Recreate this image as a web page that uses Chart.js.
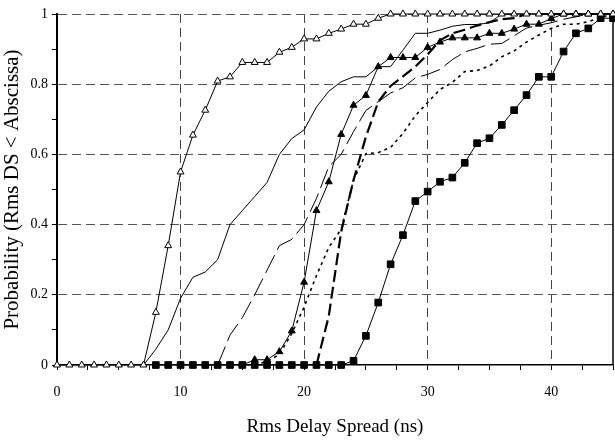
<!DOCTYPE html>
<html>
<head>
<meta charset="utf-8">
<title>Rms delay spread CDF</title>
<script src="https://cdn.jsdelivr.net/npm/chart.js@4.4.1/dist/chart.umd.min.js"></script>
<style>
  html, body { margin: 0; padding: 0; background: #fff; }
  canvas { display: block; }
</style>
</head>
<body>
<canvas id="cdfChart" width="615" height="441"></canvas>
<script>
// Rms delay spread (ns), one sample per nanosecond
const delayNs = [0, 1, 2, 3, 4, 5, 6, 7, 8, 9, 10, 11, 12, 13, 14, 15, 16, 17, 18, 19, 20, 21, 22,
  23, 24, 25, 26, 27, 28, 29, 30, 31, 32, 33, 34, 35, 36, 37, 38, 39, 40, 41, 42, 43, 44, 45];

// Cumulative probability for each curve, indexed like delayNs (null = curve not drawn there)
const openTriangles = [0, 0, 0, 0, 0, 0, 0, 0, 0.15, 0.34, 0.55, 0.655, 0.726, 0.809, 0.821, 0.862,
  0.862, 0.862, 0.891, 0.905, 0.929, 0.929, 0.945, 0.957, 0.971, 0.971, 0.988, 1, 1, 1, 1, 1, 1, 1,
  1, 1, 1, 1, 1, 1, 1, 1, 1, 1, 1, 1];
const solidThin = [null, null, null, null, null, null, null, 0, 0.045, 0.1, 0.19, 0.25, 0.265, 0.3,
  0.4, 0.44, 0.48, 0.52, 0.6, 0.645, 0.67, 0.735, 0.78, 0.807, 0.821, 0.821, 0.85, 0.85, 0.897,
  0.945, 0.945, 0.954, 0.965, 0.97, 0.97, 0.975, 1, 1, 1, 1, 1, 1, 1, 1, 1, 1];
const longDash = [null, null, null, null, null, null, null, null, null, null, null, null, null, 0,
  0.085, 0.135, 0.2, 0.27, 0.34, 0.358, 0.4, 0.475, 0.565, 0.6, 0.665, 0.725, 0.75, 0.775, 0.79,
  0.818, 0.828, 0.842, 0.87, 0.892, 0.902, 0.914, 0.916, 0.938, 0.96, 0.968, 0.975, 0.985, 0.992,
  1, 1, 1];
const boldDash = [null, null, null, null, null, null, null, null, null, null, null, null, null, null,
  null, null, null, null, null, null, null, 0, 0.14, 0.38, 0.527, 0.65, 0.75, 0.795, 0.822, 0.85,
  0.885, 0.925, 0.945, 0.955, 0.967, 0.977, 0.985, 0.988, 1, 1, 1, 1, 1, 1, 1, 1];
const dotted = [null, null, null, null, null, null, null, null, null, null, null, null, null, null,
  null, null, 0, 0.01, 0.03, 0.09, 0.165, 0.255, 0.335, 0.387, 0.527, 0.602, 0.605, 0.62, 0.66,
  0.71, 0.748, 0.785, 0.805, 0.836, 0.839, 0.852, 0.878, 0.895, 0.92, 0.94, 0.959, 0.971, 0.971,
  0.978, 0.99, 1];
const filledTriangles = [null, null, null, null, null, null, null, null, null, null, null, null, null,
  null, null, 0, 0.015, 0.015, 0.038, 0.097, 0.236, 0.44, 0.522, 0.657, 0.74, 0.768, 0.85, 0.876,
  0.876, 0.876, 0.905, 0.92, 0.932, 0.932, 0.932, 0.945, 0.945, 0.957, 0.971, 0.971, 0.987, 1, 1,
  1, 1, 1];
const filledSquares = [null, null, null, null, null, null, null, null, 0, 0, 0, 0, 0, 0, 0, 0, 0, 0,
  0, 0, 0, 0, 0, 0, 0.012, 0.083, 0.178, 0.287, 0.37, 0.467, 0.494, 0.522, 0.534, 0.576, 0.632,
  0.646, 0.684, 0.726, 0.769, 0.821, 0.821, 0.893, 0.945, 0.959, 0.988, 0.988];

// Labelled ticks; the other ticks are unlabelled minor marks
const xTickLabels = [0, 10, 20, 30, 40];
const yTickLabels = [0, 0.2, 0.4, 0.6, 0.8, 1];

const serif = '"Liberation Serif", "Times New Roman", serif';

function points(values) {
    return delayNs.map((x, i) => ({ x: x, y: values[i] }));
}

function curve(values, style) {
    return Object.assign({
        data: points(values),
        borderColor: '#000',
        borderWidth: 1,
        pointRadius: 0,
        pointBackgroundColor: '#000',
        pointBorderColor: '#000',
        pointBorderWidth: 1,
        tension: 0,
        fill: false,
        clip: false
    }, style);
}

const isMajorX = v => xTickLabels.includes(Math.round(v * 10) / 10);
const isMajorY = v => yTickLabels.includes(Math.round(v * 10) / 10);

// right-hand frame line of the plot area
const frameRight = {
    id: 'frameRight',
    beforeDatasetsDraw(chart) {
        const { ctx, chartArea } = chart;
        ctx.save();
        ctx.strokeStyle = '#000';
        ctx.lineWidth = 1.5;
        ctx.beginPath();
        ctx.moveTo(chartArea.right, chartArea.top);
        ctx.lineTo(chartArea.right, chartArea.bottom);
        ctx.stroke();
        ctx.restore();
    }
};

const ctx = document.getElementById('cdfChart').getContext('2d');
const cdfChart = new Chart(ctx, {
    type: 'line',
    data: {
        datasets: [
            curve(openTriangles, { pointStyle: 'triangle', pointRadius: 4, pointBackgroundColor: '#fff' }),
            curve(filledSquares, { pointStyle: 'rect', pointRadius: 4.7 }),
            curve(filledTriangles, { pointStyle: 'triangle', pointRadius: 4 }),
            curve(solidThin, {}),
            curve(longDash, { borderDash: [20, 6] }),
            curve(boldDash, { borderWidth: 2.2, borderDash: [12, 5] }),
            curve(dotted, { borderWidth: 1.6, borderDash: [3, 4] })
        ]
    },
    options: {
        responsive: false,
        animation: false,
        events: [],
        layout: {
            autoPadding: false,
            padding: { left: 0, right: 2, top: 14, bottom: 0 }
        },
        plugins: {
            legend: { display: false },
            tooltip: { enabled: false }
        },
        scales: {
            x: {
                type: 'linear',
                min: 0,
                max: 45,
                afterFit: scale => {
                    scale.height = 76;
                    scale.paddingLeft = 0;
                    scale.paddingRight = 0;
                },
                grid: {
                    color: c => (c.tick && c.tick.value > 0 && isMajorX(c.tick.value)) ? '#444' : 'rgba(0,0,0,0)',
                    lineWidth: 1,
                    tickColor: '#000',
                    tickLength: 5,
                    tickWidth: 1
                },
                border: { display: true, color: '#000', width: 1.5, dash: [9, 5] },
                ticks: {
                    stepSize: 2.5,
                    autoSkip: false,
                    maxRotation: 0,
                    padding: 14,
                    color: '#000',
                    font: { family: serif, size: 14 },
                    callback: v => isMajorX(v) ? String(v) : ''
                },
                title: {
                    display: true,
                    text: 'Rms Delay Spread (ns)',
                    color: '#000',
                    font: { family: serif, size: 19 },
                    padding: { top: 0, bottom: 3 }
                }
            },
            y: {
                type: 'linear',
                min: 0,
                max: 1,
                afterFit: scale => { scale.width = 57; },
                grid: {
                    color: c => (c.tick && c.tick.value > 0.01 && isMajorY(c.tick.value)) ? '#555' : 'rgba(0,0,0,0)',
                    lineWidth: 1,
                    tickColor: '#000',
                    tickLength: 5,
                    tickWidth: 1
                },
                border: { display: true, color: '#000', width: 2, dash: [9, 5] },
                ticks: {
                    stepSize: 0.1,
                    autoSkip: false,
                    padding: 4,
                    color: '#000',
                    font: { family: serif, size: 14 },
                    callback: v => isMajorY(v) ? String(Math.round(v * 10) / 10) : ''
                },
                title: {
                    display: true,
                    text: 'Probability (Rms DS < Abscissa)',
                    color: '#000',
                    font: { family: serif, size: 21 },
                    padding: { top: 0, bottom: 0 }
                }
            }
        }
    },
    plugins: [frameRight]
});
</script>
</body>
</html>
